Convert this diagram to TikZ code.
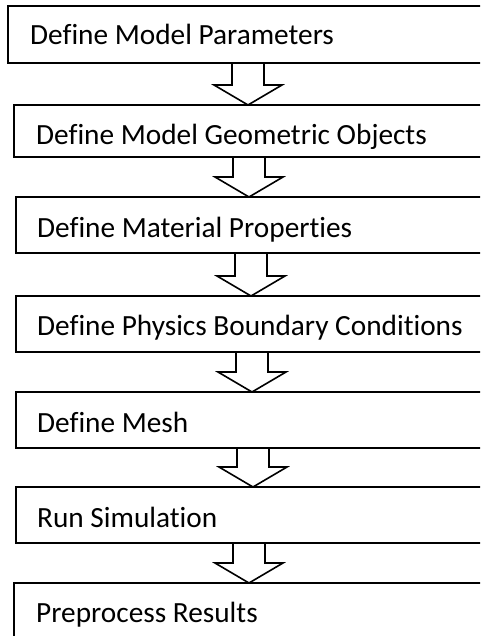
\documentclass[tikz,border=0pt]{standalone}
\usepackage{fontspec}
\setmainfont{Carlito}[Ligatures={NoCommon}]
\usetikzlibrary{calc}
\tikzset{
  box/.style={draw=black, line width=1.6pt, rectangle, anchor=north west, minimum width=490pt, inner sep=0pt, outer sep=0pt},
  lab/.style={anchor=base west, inner sep=0pt, font=\fontsize{29.3}{33}\selectfont},
  barrow/.style={draw=black, line width=1.6pt, line join=miter}
}
\newcommand\blockarrow[3]{%
  \draw[barrow] let \p1=(#1.south west), \p2=(#2.north west) in
    ({\x1+#3pt-16pt},\y1) -- ({\x1+#3pt-16pt},{\y2+20pt}) -- ({\x1+#3pt-34pt},{\y2+20pt})
    -- ({\x1+#3pt},\y2) -- ({\x1+#3pt+34pt},{\y2+20pt}) -- ({\x1+#3pt+16pt},{\y2+20pt})
    -- ({\x1+#3pt+16pt},\y1);
}
\begin{document}
\begin{tikzpicture}[x=1pt,y=-1pt]
\useasboundingbox (0,0) rectangle (480,636);
\clip (0,0) rectangle (480,636);
\node[box, minimum height=57pt] (b1) at (8,6) {};
\node[box, minimum height=52pt] (b2) at (14,105) {};
\node[box, minimum height=56pt] (b3) at (16,197) {};
\node[box, minimum height=56pt] (b4) at (16,296) {};
\node[box, minimum height=56pt] (b5) at (16,392) {};
\node[box, minimum height=56pt] (b6) at (16,487) {};
\node[box, minimum height=70pt] (b7) at (14,583) {};
\node[lab] (t1) at (30,45) {Define Model Parameters};
\node[lab] (t2) at (36,145) {Define Model Geometric Objects};
\node[lab] (t3) at (37,237) {Define Material Properties};
\node[lab] (t4) at (37,335) {Define Physics Boundary Conditions};
\node[lab] (t5) at (37,432) {Define Mesh};
\node[lab] (t6) at (37,527) {Run Simulation};
\node[lab] (t7) at (36,622) {Preprocess Results};
\blockarrow{b1}{b2}{240}
\blockarrow{b2}{b3}{235}
\blockarrow{b3}{b4}{235}
\blockarrow{b4}{b5}{236}
\blockarrow{b5}{b6}{237}
\blockarrow{b6}{b7}{233}
\end{tikzpicture}
\end{document}
